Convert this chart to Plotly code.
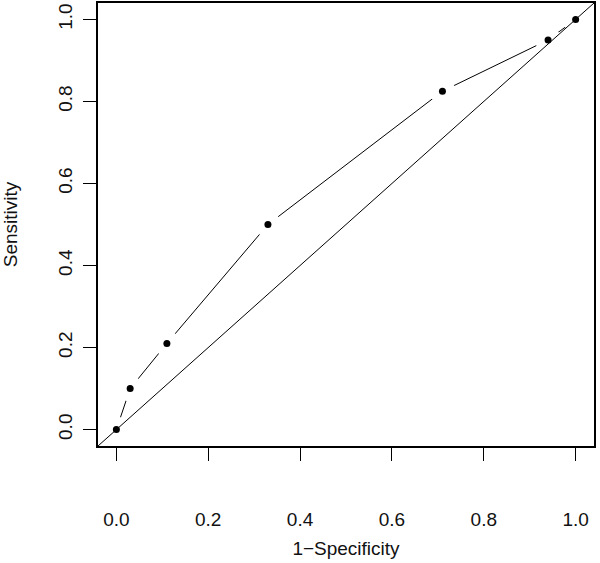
import plotly.graph_objects as go

# ROC curve data (1-Specificity, Sensitivity)
fpr = [0.0, 0.03, 0.11, 0.33, 0.71, 0.94, 1.0]
tpr = [0.0, 0.10, 0.21, 0.50, 0.825, 0.95, 1.0]
tick_vals = [0.0, 0.2, 0.4, 0.6, 0.8, 1.0]
tick_text = ["0.0", "0.2", "0.4", "0.6", "0.8", "1.0"]
axis_range = [-0.04, 1.04]

FONT = "Liberation Sans, Arial, Helvetica, sans-serif"

fig = go.Figure()
# connecting line
fig.add_trace(go.Scatter(x=fpr, y=tpr, mode="lines",
                         line=dict(color="black", width=1), hoverinfo="skip",
                         showlegend=False))
# white discs to create R type="b" gaps
fig.add_trace(go.Scatter(x=fpr, y=tpr, mode="markers",
                         marker=dict(color="white", size=26, line=dict(width=0)),
                         hoverinfo="skip", showlegend=False))
# black points
fig.add_trace(go.Scatter(x=fpr, y=tpr, mode="markers",
                         marker=dict(color="black", size=7, line=dict(width=0)),
                         showlegend=False))

# diagonal reference line (abline(0,1)) spanning the plot region
fig.add_shape(type="line", xref="x", yref="y",
              x0=axis_range[0], y0=axis_range[0], x1=axis_range[1], y1=axis_range[1],
              line=dict(color="black", width=1), layer="above")

axis_common = dict(range=axis_range, showgrid=False, zeroline=False, automargin=False,
                   showline=True, linecolor="black", linewidth=1.5, mirror=True,
                   ticks="outside", ticklen=13, tickwidth=1, tickcolor="black",
                   tickvals=tick_vals, ticktext=tick_text,
                   tickfont=dict(family=FONT, size=19, color="#111111"))

fig.update_layout(
    width=600, height=563,
    margin=dict(l=98, r=6, t=3, b=117, autoexpand=False),
    paper_bgcolor="white", plot_bgcolor="white",
    font=dict(family=FONT, size=19, color="#111111"),
    xaxis=dict(**axis_common, ticklabelstandoff=42,
               title=dict(text="1\u2212Specificity", standoff=13,
                          font=dict(family=FONT, size=19, color="#111111"))),
    yaxis=dict(**axis_common, tickangle=-90, ticklabelstandoff=4,
               title=dict(text="Sensitivity", standoff=33,
                          font=dict(family=FONT, size=19, color="#111111"))),
)

fig.write_html("out.html", config={"displayModeBar": False},
               post_script="document.body.style.margin='0px';document.body.style.padding='0px';")
